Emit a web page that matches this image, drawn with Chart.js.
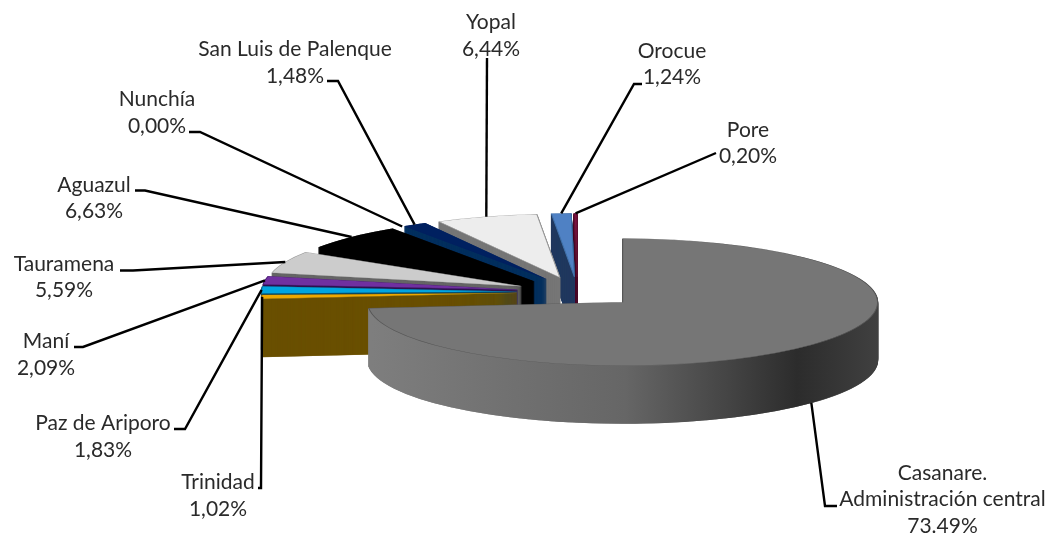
<!DOCTYPE html>
<html>
<head>
<meta charset="utf-8">
<style>html,body{margin:0;padding:0;background:#fff}canvas{display:block}</style>
<script src="https://cdn.jsdelivr.net/npm/chart.js@4"></script>
</head>
<body>
<canvas id="c" width="1050" height="533"></canvas>
<script>
// ---- data ----
const categories = ['Casanare. Administración central','Trinidad','Paz de Ariporo','Maní','Tauramena','Aguazul','Nunchía','San Luis de Palenque','Yopal','Orocue','Pore'];
const values = [73.49,1.02,1.83,2.09,5.59,6.63,0.00,1.48,6.44,1.24,0.20];
const valueLabels = ['73.49%','1,02%','1,83%','2,09%','5,59%','6,63%','0,00%','1,48%','6,44%','1,24%','0,20%'];
const labelLines = [['Casanare.','Administración central'],['Trinidad'],['Paz de Ariporo'],['Maní'],['Tauramena'],['Aguazul'],['Nunchía'],['San Luis de Palenque'],['Yopal'],['Orocue'],['Pore']];
// ---- style ----
const topColors = ['#767676','#EDA800','#00A5E0','#7030A0','#CCCCCC','#000000','#404040','#002060','#EDEDED','#4F81C4','#7A1040'];
const wallColors = ['#666666','#6A5000','#0B4A63','#2E1450','#666666','#000000','#222222','#04305F','#777777','#21395F','#4A0A28'];
const edgeColors = ['#555555','#8a6a10','#0a6a90','#50207a','#aaaaaa','#000000','#333333','#002060','#999999','#4070a8','#601030'];
// ---- layout ----
const GEOM = {cx:577.5, cy:292, rx:255, squash:0.249, explode:61, depth:58};
const labelLayout = [
 {x:942.5,y:479.5,lh:26.5,from:[837,506],el:[825,506],wall:true},
 {x:218,y:488.5,lh:27,from:[258,488],el:[261,488]},
 {x:103,y:430,lh:27,from:[174,429],el:[185,429]},
 {x:46,y:347.5,lh:27,from:[74,347],el:[83,347]},
 {x:64,y:270.5,lh:26,from:[120,270.5],el:[133,270.5]},
 {x:94,y:192,lh:26,from:[135,190.5],el:[145,190.5]},
 {x:157,y:106,lh:27,from:[189,132],el:[200,132]},
 {x:295,y:56,lh:27,from:[327,81],el:[338,81]},
 {x:491,y:29,lh:27,from:[487,58],el:[487,58]},
 {x:672,y:58,lh:26,from:[642,84],el:[634,84]},
 {x:748,y:137,lh:26,from:[716,153],el:[716,153]}
];
const FONT = '21px Lato';

function variant(arc, bg, bw, bc){
  const o = Object.create(arc);
  o.options = Object.assign({}, arc.options, {backgroundColor:bg, borderWidth:bw, offset:0, borderAlign:'center', borderColor:bc, spacing:0, circular:true, borderRadius:0, borderJoinStyle:'round', borderDash:[], borderDashOffset:0, selfJoin:false});
  return o;
}
function layer(ctx, arc, d){
  const mid = (arc.startAngle+arc.endAngle)/2;
  ctx.translate(0, GEOM.cy + d);
  ctx.scale(1, GEOM.squash);
  ctx.translate(Math.cos(mid)*GEOM.explode, Math.sin(mid)*GEOM.explode - arc.y);
}
const pie3d = {
  id:'pie3d',
  beforeDatasetsDraw(chart){
    const ctx = chart.ctx, arcs = chart.getDatasetMeta(0).data;
    const order = arcs.map((a,i)=>i).reverse();
    for(const i of order){
      const arc = arcs[i];
      if(!values[i]) continue;
      let wall = wallColors[i];
      if(i===0){
        const mid = (arc.startAngle+arc.endAngle)/2;
        const dx = Math.cos(mid)*GEOM.explode;
        const g = ctx.createLinearGradient(372-dx,0,878-dx,0);
        g.addColorStop(0,'#7e7e7e'); g.addColorStop(0.22,'#737373'); g.addColorStop(0.5,'#666666');
        g.addColorStop(0.7,'#454545'); g.addColorStop(0.84,'#2c2c2c'); g.addColorStop(1,'#404040');
        wall = g;
      }
      const w = variant(arc, wall, 1.2, wall);
      for(let d=GEOM.depth; d>=0.5; d-=0.5){
        ctx.save(); layer(ctx,arc,d); w.draw(ctx); ctx.restore();
      }
      const t = variant(arc, topColors[i], 1.1, edgeColors[i]);
      ctx.save(); layer(ctx,arc,0); t.draw(ctx); ctx.restore();
    }
    return false;
  },
  afterDraw(chart){
    const ctx = chart.ctx, arcs = chart.getDatasetMeta(0).data;
    arcs.forEach((arc,i)=>{
      const L = labelLayout[i];
      const mid = (arc.startAngle+arc.endAngle)/2;
      const ox = arc.x + Math.cos(mid)*(GEOM.explode+GEOM.rx);
      const oy = GEOM.cy + Math.sin(mid)*(GEOM.explode+GEOM.rx)*GEOM.squash + (L.wall?GEOM.depth:0);
      ctx.save();
      ctx.strokeStyle='#000'; ctx.lineWidth=2.4; ctx.lineJoin='miter';
      ctx.beginPath(); ctx.moveTo(L.from[0],L.from[1]); ctx.lineTo(L.el[0],L.el[1]); ctx.lineTo(ox,oy); ctx.stroke();
      ctx.fillStyle='#2a2a2a'; ctx.font=FONT; ctx.textAlign='center'; ctx.textBaseline='alphabetic';
      const lines = labelLines[i].concat(valueLabels[i]);
      lines.forEach((s,k)=>ctx.fillText(s,L.x,L.y+k*L.lh));
      ctx.restore();
    });
  }
};
new Chart(document.getElementById('c'),{
  type:'pie',
  data:{labels:categories,datasets:[{data:values,backgroundColor:topColors,borderColor:edgeColors,borderWidth:1.1}]},
  options:{
    responsive:false,animation:false,
    layout:{padding:{left:GEOM.cx*2-1050}},
    radius:GEOM.rx,
    rotation:0,
    plugins:{legend:{display:false},tooltip:{enabled:false}},
    events:[]
  },
  plugins:[pie3d]
});
</script>
</body>
</html>
